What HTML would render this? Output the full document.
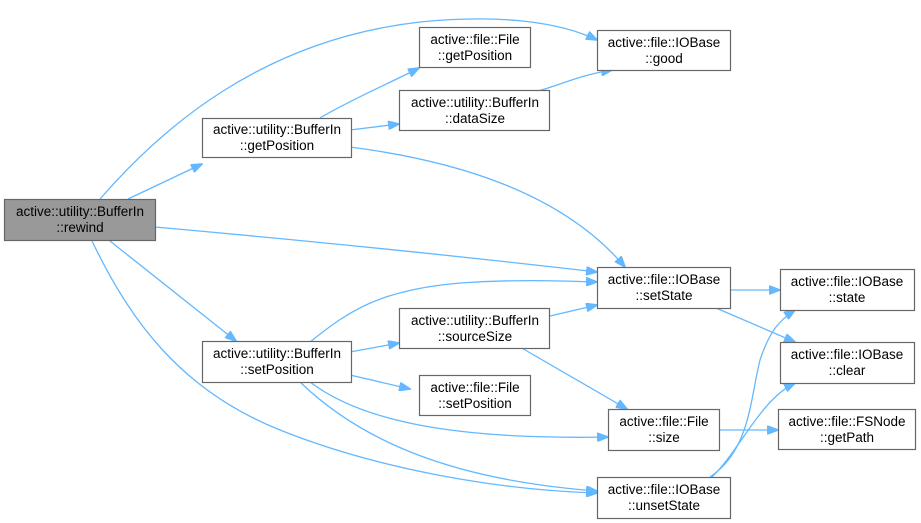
<!DOCTYPE html>
<html><head><meta charset="utf-8"><style>
html,body{margin:0;padding:0;background:#fff;}
svg{display:block;}
text{font-family:"Liberation Sans",Arial,sans-serif;font-size:13.5px;fill:#000;text-anchor:middle;}
.n{fill:#fff;stroke:#666;stroke-width:1.2;}
.e{fill:none;stroke:#63b8ff;stroke-width:1.3;}
.a{fill:#63b8ff;stroke:#63b8ff;}
</style></head><body>
<svg width="921" height="523" viewBox="0 0 921 523" xmlns="http://www.w3.org/2000/svg">
<defs><marker id="ar" markerWidth="12" markerHeight="9" refX="11" refY="4.5" orient="auto" markerUnits="userSpaceOnUse"><path d="M0,0 L12,4.5 L0,9z" class="a"/></marker></defs>
<g class="e" marker-end="url(#ar)">
<path d="M100,199 C160,130 260,40 420,22 C500,14 560,22 597,40"/>
<path d="M128,199 L202,164"/>
<path d="M155,227 C300,240 450,255 597,272"/>
<path d="M110,241 L236,341"/>
<path d="M92,241 C130,320 180,390 280,430 C380,470 500,490 597,493"/>
<path d="M320,118 C350,100 390,83 419,68"/>
<path d="M350,130 L399,124"/>
<path d="M350,147 C450,160 560,190 625,267"/>
<path d="M538,91 C560,85 580,75 612,70"/>
<path d="M310,342 C350,310 380,290 460,283 C520,279 560,281 597,282"/>
<path d="M350,352 L399,343"/>
<path d="M350,375 L410,389"/>
<path d="M310,382 C360,420 450,440 608,437"/>
<path d="M300,382 C360,440 450,480 597,491"/>
<path d="M520,347 L627,409"/>
<path d="M550,316 L597,305"/>
<path d="M731,290 L780,290"/>
<path d="M716,308 L795,342"/>
<path d="M719,430 L778,430"/>
<path d="M710,477 C750,450 750,400 760,360 C770,330 780,320 795,310"/>
<path d="M712,477 C740,450 760,400 795,383"/>
</g>
<rect x="4.5" y="199.5" width="151" height="41" fill="#999" stroke="#666" stroke-width="1.2"/>
<text x="80" y="216">active::utility::BufferIn</text><text x="80" y="232">::rewind</text>
<rect class="n" x="202.5" y="118.5" width="149" height="39"/>
<text x="277" y="134">active::utility::BufferIn</text><text x="277" y="150">::getPosition</text>
<rect class="n" x="202.5" y="341.5" width="149" height="41"/>
<text x="277" y="358">active::utility::BufferIn</text><text x="277" y="374">::setPosition</text>
<rect class="n" x="419.5" y="27.5" width="111" height="40"/>
<text x="475" y="44">active::file::File</text><text x="475" y="60">::getPosition</text>
<rect class="n" x="399.5" y="90.5" width="150" height="40"/>
<text x="475" y="107">active::utility::BufferIn</text><text x="475" y="123">::dataSize</text>
<rect class="n" x="399.5" y="308.5" width="150" height="40"/>
<text x="475" y="325">active::utility::BufferIn</text><text x="475" y="341">::sourceSize</text>
<rect class="n" x="419.5" y="375.5" width="111" height="40"/>
<text x="475" y="392">active::file::File</text><text x="475" y="408">::setPosition</text>
<rect class="n" x="597.5" y="30.5" width="133" height="40"/>
<text x="664" y="47">active::file::IOBase</text><text x="664" y="63">::good</text>
<rect class="n" x="597.5" y="267.5" width="133" height="41"/>
<text x="664" y="284">active::file::IOBase</text><text x="664" y="300">::setState</text>
<rect class="n" x="608.5" y="409.5" width="111" height="41"/>
<text x="664" y="426">active::file::File</text><text x="664" y="442">::size</text>
<rect class="n" x="597.5" y="477.5" width="133" height="41"/>
<text x="664" y="494">active::file::IOBase</text><text x="664" y="510">::unsetState</text>
<rect class="n" x="780.5" y="269.5" width="134" height="41"/>
<text x="847" y="286">active::file::IOBase</text><text x="847" y="302">::state</text>
<rect class="n" x="780.5" y="342.5" width="134" height="41"/>
<text x="847" y="359">active::file::IOBase</text><text x="847" y="375">::clear</text>
<rect class="n" x="778.5" y="409.5" width="137" height="40"/>
<text x="847" y="426">active::file::FSNode</text><text x="847" y="442">::getPath</text>
</svg>
</body></html>
